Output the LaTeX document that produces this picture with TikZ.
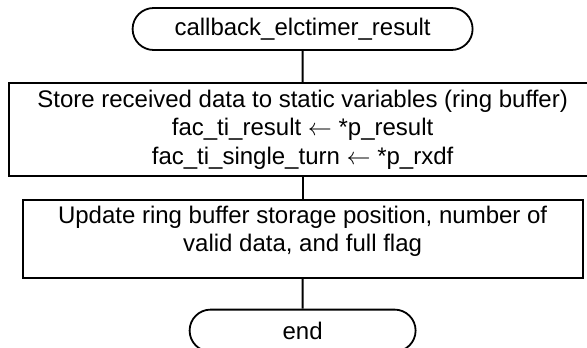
\documentclass[tikz,border=0pt]{standalone}
\usepackage{fontspec}
\setmainfont{Liberation Sans}
\usetikzlibrary{positioning, shapes.misc}
\tikzset{
  term/.style ={draw, rounded rectangle, minimum height=21pt, inner sep=0pt, line width=0.9pt, font=\fontsize{12}{14}\selectfont},
  proc/.style ={draw, rectangle, inner sep=0pt, line width=0.9pt, align=center, font=\fontsize{12}{14.2}\selectfont},
  flow/.style ={line width=0.9pt},
}
\begin{document}
\begin{tikzpicture}[node distance=15pt]
  \useasboundingbox (0,0) rectangle (293.5pt,-173.5pt);
  \node[term, minimum width=170pt] (S) at (151.3pt,-14.5pt) {callback\_elctimer\_result};
  \node[proc, minimum width=293.3pt, minimum height=46.2pt, below=15.8pt of S] (P1)
    {Store received data to static variables (ring buffer)\\
     fac\_ti\_result $\leftarrow$ *p\_result\\
     fac\_ti\_single\_turn $\leftarrow$ *p\_rxdf};
  \node[proc, minimum width=280pt, minimum height=39pt, text depth=10pt, below=11.1pt of P1] (P2)
    {Update ring buffer storage position, number of\\
     valid data, and full flag};
  \node[term, minimum width=113pt, below=15pt of P2] (E) {end};
  \draw[flow] (S) -- (P1); \draw[flow] (P1) -- (P2); \draw[flow] (P2) -- (E);
\end{tikzpicture}
\end{document}
